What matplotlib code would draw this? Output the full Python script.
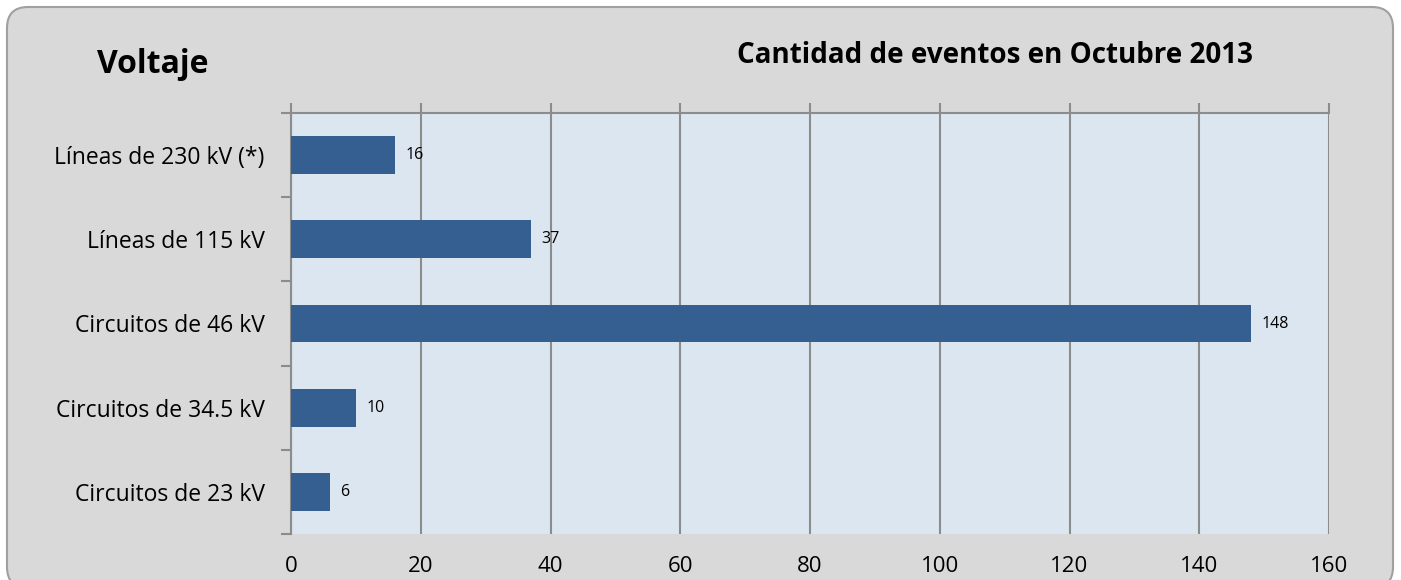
import matplotlib
matplotlib.use("Agg")
import matplotlib.pyplot as plt
from matplotlib.patches import FancyBboxPatch

plt.rcParams["font.family"] = ["Open Sans", "DejaVu Sans"]

# datos
categorias = ["Líneas de 230 kV (*)", "Líneas de 115 kV", "Circuitos de 46 kV",
              "Circuitos de 34.5 kV", "Circuitos de 23 kV"]
eventos = [16, 37, 148, 10, 6]
x_ticks = [0, 20, 40, 60, 80, 100, 120, 140, 160]

W, H = 1401, 580
fig = plt.figure(figsize=(W / 100, H / 100), dpi=100)
fig.patch.set_facecolor("white")

# marco gris redondeado (se corta por abajo)
marco = FancyBboxPatch((7 / W, -8 / H), (W - 15) / W, (H + 1) / H,
                       boxstyle="round,pad=0,rounding_size=0.015",
                       transform=fig.transFigure, facecolor="#d9d9d9",
                       edgecolor="#a0a0a0", linewidth=1.5, mutation_aspect=W / H,
                       zorder=-5)
fig.add_artist(marco)

ax = fig.add_axes([291 / W, 1 - 534 / H, (1329 - 291) / W, (534 - 113) / H])
ax.set_facecolor("#dce6f1")

pos = list(range(len(categorias)))[::-1]
ax.barh(pos, eventos, height=0.45, color="#365f91", zorder=3)
for p, v in zip(pos, eventos):
    ax.text(v + 1.6, p, str(v), va="center", ha="left", fontsize=11.5, color="black")

ax.set_xlim(0, 160)
ax.set_ylim(-0.5, len(categorias) - 0.5)
ax.set_xticks(x_ticks)
ax.grid(axis="x", color="#8c8c8c", linewidth=1.5, zorder=1)

ax.set_yticks(pos)
ax.set_yticklabels(categorias, fontsize=16.5)
ax.set_yticks([p + 0.5 for p in range(len(categorias))] + [-0.5], minor=True)
ax.tick_params(axis="y", which="major", length=0, pad=19)
ax.tick_params(axis="y", which="minor", length=7, width=1.5, color="#8c8c8c")
ax.tick_params(axis="x", length=7, width=1.5, color="#8c8c8c", labelsize=16,
               top=True, bottom=False, pad=9)

for lado in ["left", "top"]:
    ax.spines[lado].set_color("#8c8c8c")
    ax.spines[lado].set_linewidth(1.5)
ax.spines["right"].set_visible(False)
ax.spines["bottom"].set_visible(False)

fig.text(153 / W, 1 - 73 / H, "Voltaje", fontsize=23, fontweight="bold",
         ha="center", va="baseline")
fig.text(995 / W, 1 - 63 / H, "Cantidad de eventos en Octubre 2013", fontsize=20,
         fontweight="bold", ha="center", va="baseline")

fig.savefig("out.png", dpi=100)
